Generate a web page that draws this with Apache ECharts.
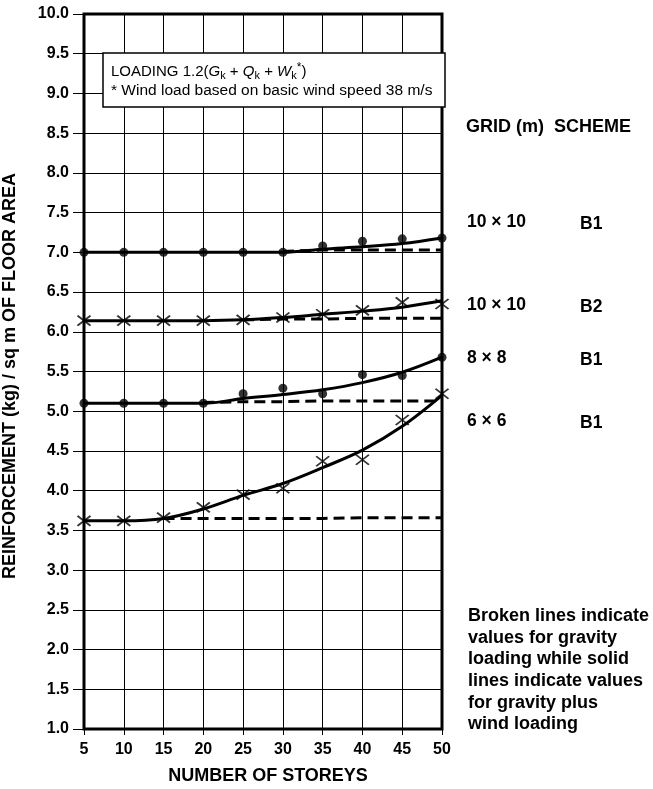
<!DOCTYPE html>
<html>
<head>
<meta charset="utf-8">
<script src="https://cdn.jsdelivr.net/npm/echarts@6/dist/echarts.min.js"></script>
<style>
  html, body { margin: 0; padding: 0; background: #fff; }
  #chart { width: 653px; height: 789px; }
</style>
</head>
<body>
<div id="chart"></div>
<script>
// Number of storeys (x axis)
var storeys = [5, 10, 15, 20, 25, 30, 35, 40, 45, 50];

// 10 x 10 grid, scheme B1
var g10B1Points  = [7.00, 7.00, 7.00, 7.00, 7.00, 7.00, 7.08, 7.14, 7.17, 7.18];
var g10B1Wind    = [7.00, 7.00, 7.00, 7.00, 7.00, 7.00, 7.04, 7.07, 7.11, 7.18];
var g10B1Gravity = [null, null, null, null, null, 7.01, 7.03, 7.03, 7.03, 7.03];

// 10 x 10 grid, scheme B2
var g10B2Points  = [6.14, 6.14, 6.14, 6.14, 6.15, 6.18, 6.22, 6.27, 6.37, 6.35];
var g10B2Wind    = [6.14, 6.14, 6.14, 6.14, 6.15, 6.18, 6.22, 6.26, 6.31, 6.39];
var g10B2Gravity = [null, null, null, null, 6.15, 6.16, 6.16, 6.17, 6.17, 6.17];

// 8 x 8 grid, scheme B1
var g8B1Points  = [5.10, 5.10, 5.10, 5.10, 5.22, 5.29, 5.22, 5.46, 5.45, 5.68];
var g8B1Wind    = [5.10, 5.10, 5.10, 5.10, 5.16, 5.21, 5.27, 5.36, 5.49, 5.68];
var g8B1Gravity = [null, null, null, 5.11, 5.12, 5.12, 5.13, 5.13, 5.13, 5.13];

// 6 x 6 grid, scheme B1
var g6B1Points  = [3.62, 3.62, 3.66, 3.79, 3.95, 4.03, 4.37, 4.39, 4.89, 5.22];
var g6B1Wind    = [3.62, 3.62, 3.65, 3.77, 3.94, 4.09, 4.29, 4.51, 4.81, 5.20];
var g6B1Gravity = [null, null, 3.65, 3.65, 3.65, 3.65, 3.65, 3.66, 3.66, 3.66];

// Axis ticks
var xTicks = { min: 5, max: 50, step: 5 };
var yTicks = { min: 1.0, max: 10.0, step: 0.5 };

// Labels drawn beside the curves
var gridLabels = [
  { grid: '10 \u00d7 10', scheme: 'B1', y: 222 },
  { grid: '10 \u00d7 10', scheme: 'B2', y: 305 },
  { grid: '8 \u00d7 8',   scheme: 'B1', y: 358 },
  { grid: '6 \u00d7 6',   scheme: 'B1', y: 421 }
];
var noteLines = [
  'Broken lines indicate',
  'values for gravity',
  'loading while solid',
  'lines indicate values',
  'for gravity plus',
  'wind loading'
];

function pairs(vals) {
  return storeys.map(function (s, i) { return vals[i] == null ? null : [s, vals[i]]; })
                .filter(function (p) { return p !== null; });
}

var FONT = '"Liberation Sans", Arial, Helvetica, sans-serif';
var CROSS = 'path://M0,0L12,9M12,0L0,9';

function windLine(vals) {
  return {
    type: 'line', data: pairs(vals), smooth: 0.35, showSymbol: false,
    lineStyle: { color: '#000', width: 3 }, z: 3, silent: true
  };
}
function gravityLine(vals) {
  return {
    type: 'line', data: pairs(vals), showSymbol: false,
    lineStyle: { color: '#000', width: 3, type: [11, 6] }, z: 2, silent: true
  };
}
function dots(vals) {
  return {
    type: 'scatter', data: pairs(vals), symbol: 'circle', symbolSize: 9,
    itemStyle: { color: '#000' }, z: 4, silent: true
  };
}
function crosses(vals) {
  return {
    type: 'scatter', data: pairs(vals), symbol: CROSS, symbolSize: [13, 10],
    itemStyle: { color: 'rgba(0,0,0,0)', borderColor: '#000', borderWidth: 1.8 },
    z: 4, silent: true
  };
}

var graphics = [];

// Loading note box
graphics.push({
  type: 'rect', z: 100,
  shape: { x: 103, y: 53, width: 342, height: 54 },
  style: { fill: '#fff', stroke: '#000', lineWidth: 1.5 }
});
graphics.push({
  type: 'text', z: 101, left: 111, top: 62,
  style: {
    text: '{n|LOADING 1.2(}{i|G}{s|k}{n| + }{i|Q}{s|k}{n| + }{i|W}{s|k}{p|*}{n|)}',
    rich: {
      n: { fontFamily: FONT, fontSize: 15, fill: '#000', lineHeight: 19 },
      i: { fontFamily: FONT, fontSize: 15, fontStyle: 'italic', fill: '#000', lineHeight: 19 },
      s: { fontFamily: FONT, fontSize: 11, fill: '#000', lineHeight: 19, padding: [8, 0, 0, 0] },
      p: { fontFamily: FONT, fontSize: 12, fill: '#000', lineHeight: 19, padding: [0, 0, 8, 0] }
    }
  }
});
graphics.push({
  type: 'text', z: 101, left: 111, top: 83,
  style: { text: '* Wind load based on basic wind speed 38 m/s', font: '15.5px ' + FONT, fill: '#000' }
});

// Right-hand key
graphics.push({
  type: 'text', z: 10, x: 466, y: 127,
  style: { text: 'GRID (m)  SCHEME', font: 'bold 18px ' + FONT, fill: '#000', verticalAlign: 'middle' }
});
gridLabels.forEach(function (g) {
  graphics.push({ type: 'text', z: 10, x: 467, y: g.y,
    style: { text: g.grid, font: 'bold 17.5px ' + FONT, fill: '#000', verticalAlign: 'middle' } });
  graphics.push({ type: 'text', z: 10, x: 580, y: g.y + 2,
    style: { text: g.scheme, font: 'bold 17.5px ' + FONT, fill: '#000', verticalAlign: 'middle' } });
});
graphics.push({
  type: 'text', z: 10, x: 468, y: 605,
  style: { text: noteLines.join('\n'), font: 'bold 18px ' + FONT, lineHeight: 21.7, fill: '#000' }
});

// Axis titles
graphics.push({
  type: 'text', z: 10, x: 10, y: 376, rotation: Math.PI / 2,
  style: { text: 'REINFORCEMENT (kg) / sq m OF FLOOR AREA', font: 'bold 18px ' + FONT,
           fill: '#000', align: 'center', verticalAlign: 'middle' }
});
graphics.push({
  type: 'text', z: 10, x: 268, y: 776,
  style: { text: 'NUMBER OF STOREYS', font: 'bold 18px ' + FONT,
           fill: '#000', align: 'center', verticalAlign: 'middle' }
});

var chart = echarts.init(document.getElementById('chart'), null, { renderer: 'canvas' });
chart.setOption({
  animation: false,
  backgroundColor: '#fff',
  grid: { left: 84, right: 211, top: 14, bottom: 60, show: true,
          borderColor: '#000', borderWidth: 3, backgroundColor: 'transparent' },
  xAxis: {
    type: 'value', min: xTicks.min, max: xTicks.max, interval: xTicks.step,
    axisLine: { show: false },
    axisTick: { show: true, length: 6, lineStyle: { color: '#000', width: 1 } },
    axisLabel: { color: '#000', fontFamily: FONT, fontSize: 16, fontWeight: 'bold', margin: 13 },
    splitLine: { show: true, lineStyle: { color: '#000', width: 1 } }
  },
  yAxis: {
    type: 'value', min: yTicks.min, max: yTicks.max, interval: yTicks.step,
    axisLine: { show: false },
    axisTick: { show: true, length: 11, lineStyle: { color: '#000', width: 1 } },
    axisLabel: { color: '#000', fontFamily: FONT, fontSize: 16, fontWeight: 'bold', margin: 15,
                 formatter: function (v) { return v.toFixed(1); } },
    splitLine: { show: true, lineStyle: { color: '#000', width: 1 } }
  },
  series: [
    gravityLine(g10B1Gravity), windLine(g10B1Wind), dots(g10B1Points),
    gravityLine(g10B2Gravity), windLine(g10B2Wind), crosses(g10B2Points),
    gravityLine(g8B1Gravity),  windLine(g8B1Wind),  dots(g8B1Points),
    gravityLine(g6B1Gravity),  windLine(g6B1Wind),  crosses(g6B1Points)
  ],
  graphic: graphics
});
</script>
</body>
</html>
